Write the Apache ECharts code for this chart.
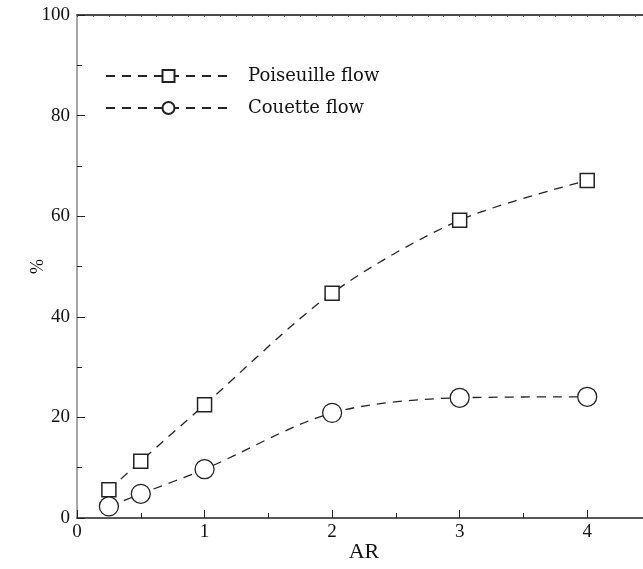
<!DOCTYPE html>
<html>
<head>
<meta charset="utf-8">
<script src="https://cdn.jsdelivr.net/npm/echarts@6/dist/echarts.min.js"></script>
<style>
  html, body { margin: 0; padding: 0; background: #fff; }
  #chart { width: 643px; height: 569px; }
</style>
</head>
<body>
<div id="chart"></div>
<script>
  // aspect ratio values and percentages
  var arValues = [0.25, 0.5, 1, 2, 3, 4];
  var poiseuille = [5.6, 11.3, 22.5, 44.7, 59.2, 67.1];
  var couette = [2.3, 4.8, 9.7, 20.9, 23.9, 24.1];
  var seriesNames = ['Poiseuille flow', 'Couette flow'];

  function pairs(ys) {
    return arValues.map(function (x, i) { return [x, ys[i]]; });
  }

  var font = 'Liberation Serif';
  var chart = echarts.init(document.getElementById('chart'));

  chart.setOption({
    animation: false,
    grid: { left: 77, right: -8, top: 15, bottom: 51, outerBoundsMode: 'none' },
    legend: {
      left: 100,
      top: 62,
      orient: 'vertical',
      itemGap: 14,
      itemWidth: 125,
      itemHeight: 15,
      textStyle: { fontFamily: 'DejaVu Serif', fontSize: 18, color: '#111', padding: [0, 0, 0, 12] },
      data: seriesNames
    },
    xAxis: [{
      type: 'value',
      min: 0,
      max: 4.5,
      interval: 1,
      name: 'AR',
      nameLocation: 'middle',
      nameGap: 23,
      nameMoveOverlap: false,
      nameTextStyle: { fontFamily: font, fontSize: 22, color: '#111' },
      axisLine: { lineStyle: { color: '#222', width: 1.5 } },
      axisTick: { inside: true, length: 8, lineStyle: { color: '#222' } },
      minorTick: { show: true, splitNumber: 2, length: 5, lineStyle: { color: '#222' } },
      axisLabel: { fontFamily: font, fontSize: 19, color: '#111', margin: 5, showMaxLabel: false },
      splitLine: { show: false }
    }, {
      type: 'value',
      position: 'top',
      min: 0,
      max: 4.5,
      interval: 0.25,
      axisLine: { show: true, lineStyle: { color: '#111', width: 1.5 } },
      axisTick: { inside: true, length: 2, lineStyle: { color: '#555' } },
      minorTick: { show: true, splitNumber: 2, length: 2, lineStyle: { color: '#555' } },
      axisLabel: { show: false },
      splitLine: { show: false }
    }],
    yAxis: {
      type: 'value',
      min: 0,
      max: 100,
      interval: 20,
      name: '%',
      nameLocation: 'middle',
      nameGap: 30,
      nameMoveOverlap: false,
      nameRotate: 90,
      nameTextStyle: { fontFamily: font, fontSize: 18, color: '#111' },
      axisLine: { show: true, lineStyle: { color: '#888', width: 1.5 } },
      axisTick: { show: true, inside: true, length: 8, lineStyle: { color: '#222' } },
      minorTick: { show: true, splitNumber: 2, length: 5, lineStyle: { color: '#222' } },
      axisLabel: { fontFamily: font, fontSize: 19, color: '#111', margin: 7 },
      splitLine: { show: false }
    },
    series: [
      {
        name: seriesNames[0],
        type: 'line',
        smooth: 0.3,
        data: pairs(poiseuille),
        symbol: 'rect',
        symbolSize: 14,
        itemStyle: { color: '#fff', borderColor: '#222', borderWidth: 1.5 },
        lineStyle: { color: '#222', width: 1.3, type: [9, 7] },
        z: 3
      },
      {
        name: seriesNames[1],
        type: 'line',
        smooth: 0.3,
        data: pairs(couette),
        symbol: 'circle',
        symbolSize: 19,
        itemStyle: { color: '#fff', borderColor: '#222', borderWidth: 1.3 },
        lineStyle: { color: '#222', width: 1.3, type: [9, 7] },
        z: 3
      }
    ]
  });
</script>
</body>
</html>
